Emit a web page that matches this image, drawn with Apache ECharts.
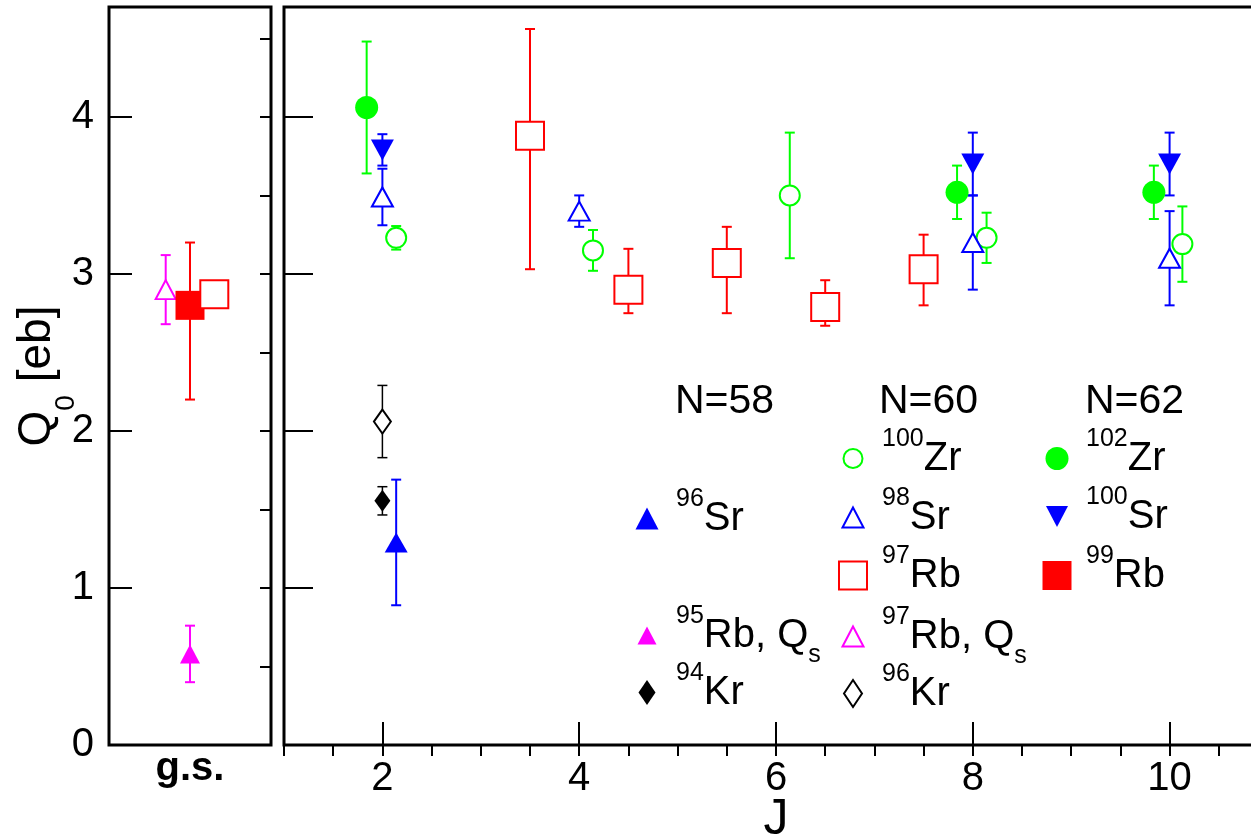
<!DOCTYPE html>
<html>
<head>
<meta charset="utf-8">
<script src="https://cdn.jsdelivr.net/npm/echarts@6/dist/echarts.min.js"></script>
<style>
  html, body { margin: 0; padding: 0; background: #fff; }
  #chart { width: 1251px; height: 839px; }
</style>
</head>
<body>
<div id="chart"></div>
<script>
// each point: [J, Q0, error down, error up]
const zr100 = [[2.14, 3.23, 0.075, 0.075], [4.14, 3.15, 0.13, 0.13], [6.14, 3.50, 0.40, 0.40], [8.14, 3.23, 0.16, 0.16], [10.13, 3.19, 0.24, 0.24]];
const zr102 = [[1.84, 4.06, 0.42, 0.42], [7.84, 3.52, 0.17, 0.17], [9.84, 3.52, 0.17, 0.17]];
const sr100 = [[2.0, 3.79, 0.10, 0.10], [8.0, 3.70, 0.20, 0.20], [10.0, 3.70, 0.20, 0.20]];
const sr98 = [[2.0, 3.49, 0.18, 0.18], [4.0, 3.40, 0.10, 0.10], [8.0, 3.20, 0.30, 0.30], [10.0, 3.10, 0.30, 0.30]];
const rb97 = [[3.5, 3.88, 0.85, 0.68], [4.5, 2.90, 0.15, 0.26], [5.5, 3.07, 0.32, 0.23], [6.5, 2.79, 0.12, 0.17], [7.5, 3.03, 0.23, 0.22]];
const sr96 = [[2.14, 1.29, 0.40, 0.40]];
const kr94 = [[2.0, 1.555, 0.09, 0.09]];
const kr96 = [[2.0, 2.06, 0.23, 0.23]];

// ground state panel, x runs 0..1
const gsRb97Qs = [[0.35, 2.90, 0.22, 0.22]];
const gsRb99 = [[0.5, 2.80, 0.60, 0.40]];
const gsRb97 = [[0.65, 2.87, 0.05, 0.05]];
const gsRb95Qs = [[0.5, 0.58, 0.18, 0.18]];

const jTicks = [2, 4, 6, 8, 10];
const qTicks = [0, 1, 2, 3, 4];
const groupHeaders = ['N=58', 'N=60', 'N=62'];

const FONT = 'Liberation Sans';
const GREEN = '#00ff00', BLUE = '#0000ff', RED = '#ff0000', MAG = '#ff00ff', BLACK = '#000';
const DOWN_TRIANGLE = 'path://M0,0L20,0L10,19Z';

function points(name, data, symbol, size, color, hollow, xi, yi, rotate) {
  return {
    type: 'scatter', name: name, data: data, xAxisIndex: xi, yAxisIndex: yi,
    symbol: symbol, symbolSize: size, symbolRotate: rotate || 0, z: 3,
    itemStyle: hollow ? {color: '#fff', borderColor: color, borderWidth: 2, opacity: 1}
                      : {color: color, borderWidth: 0, opacity: 1},
    emphasis: {disabled: true}, silent: true
  };
}

function errors(name, data, color, xi, yi, width) {
  const lw = width || 2;
  return {
    type: 'custom', name: name + ' err', data: data, xAxisIndex: xi, yAxisIndex: yi,
    encode: {x: 0, y: 1}, z: 2, silent: true,
    renderItem: function (params, api) {
      const x = api.value(0), y = api.value(1);
      const lo = api.coord([x, y - api.value(2)]);
      const hi = api.coord([x, y + api.value(3)]);
      const st = {stroke: color, lineWidth: lw};
      const c = 5;
      return {type: 'group', children: [
        {type: 'line', shape: {x1: lo[0], y1: lo[1], x2: hi[0], y2: hi[1]}, style: st},
        {type: 'line', shape: {x1: lo[0] - c, y1: lo[1], x2: lo[0] + c, y2: lo[1]}, style: st},
        {type: 'line', shape: {x1: hi[0] - c, y1: hi[1], x2: hi[0] + c, y2: hi[1]}, style: st}
      ]};
    }
  };
}

const series = [
  errors('100Zr', zr100, GREEN, 1, 2), points('100Zr', zr100, 'circle', 20, GREEN, true, 1, 2),
  errors('102Zr', zr102, GREEN, 1, 2), points('102Zr', zr102, 'circle', 23, GREEN, false, 1, 2),
  errors('100Sr', sr100, BLUE, 1, 2), points('100Sr', sr100, 'triangle', [23, 21], BLUE, false, 1, 2, 180),
  errors('98Sr', sr98, BLUE, 1, 2), points('98Sr', sr98, 'triangle', [21, 19], BLUE, true, 1, 2),
  errors('97Rb', rb97, RED, 1, 2), points('97Rb', rb97, 'rect', 28, RED, true, 1, 2),
  errors('96Sr', sr96, BLUE, 1, 2), points('96Sr', sr96, 'triangle', [23, 20], BLUE, false, 1, 2),
  errors('94Kr', kr94, BLACK, 1, 2, 1.5), points('94Kr', kr94, 'diamond', [16, 22], BLACK, false, 1, 2),
  errors('96Kr', kr96, BLACK, 1, 2, 1.5), points('96Kr', kr96, 'diamond', [17, 24], BLACK, true, 1, 2),
  errors('97Rb, Qs', gsRb97Qs, MAG, 0, 0), points('97Rb, Qs', gsRb97Qs, 'triangle', [20, 19], MAG, true, 0, 0),
  errors('99Rb', gsRb99, RED, 0, 0), points('99Rb', gsRb99, 'rect', 29, RED, false, 0, 0),
  errors('97Rb gs', gsRb97, RED, 0, 0), points('97Rb', gsRb97, 'rect', 28, RED, true, 0, 0),
  errors('95Rb, Qs', gsRb95Qs, MAG, 0, 0), points('95Rb, Qs', gsRb95Qs, 'triangle', [20, 19], MAG, false, 0, 0)
];

// legend slots: icon centre and icon size
const legendSlots = [
  {name: '96Sr', cx: 647, cy: 518, w: 23, h: 22},
  {name: '95Rb, Qs', cx: 647, cy: 634, w: 19, h: 18},
  {name: '94Kr', cx: 647, cy: 692, w: 17, h: 25},
  {name: '100Zr', cx: 852, cy: 458, w: 19, h: 19},
  {name: '98Sr', cx: 852, cy: 517, w: 21, h: 20},
  {name: '97Rb', cx: 852, cy: 575, w: 28, h: 28},
  {name: '97Rb, Qs', cx: 852, cy: 635, w: 21, h: 20},
  {name: '96Kr', cx: 852, cy: 693, w: 18, h: 27},
  {name: '102Zr', cx: 1057, cy: 458, w: 23, h: 23},
  {name: '100Sr', cx: 1057, cy: 516, w: 22, h: 21, icon: DOWN_TRIANGLE},
  {name: '99Rb', cx: 1057, cy: 575, w: 29, h: 29}
];

function nucleusLabel(name) {
  const m = name.match(/^(\d+)([A-Za-z]+)(, Qs)?$/);
  if (!m) return name;
  if (m[3]) return '{sup|' + m[1] + '}{base|' + m[2] + ', Q}{sub|s}';
  return '{sup|' + m[1] + '}{base|' + m[2] + '}';
}

const legends = legendSlots.map(s => ({
  data: [s.icon ? {name: s.name, icon: s.icon} : s.name],
  left: s.cx - s.w / 2, top: s.cy - 31, padding: 0,
  itemWidth: s.w, itemHeight: s.h, selectedMode: false,
  formatter: nucleusLabel,
  textStyle: {
    color: '#000',
    rich: {
      sup: {fontSize: 25, fontFamily: FONT, color: '#000', lineHeight: 20, padding: [0, 0, 38, 24 - s.w / 2]},
      base: {fontSize: 40, fontFamily: FONT, color: '#000'},
      sub: {fontSize: 25, fontFamily: FONT, color: '#000', lineHeight: 20, padding: [40, 0, 0, 0]}
    }
  }
}));

const headerX = [675, 879, 1085];

const tickStyle = {color: '#000', width: 2};

const option = {
  animation: false,
  backgroundColor: '#fff',
  grid: [
    {left: 109, top: 7, width: 162, height: 738, show: true, borderColor: '#000', borderWidth: 3,
     backgroundColor: 'transparent', outerBoundsMode: 'none', containLabel: false},
    {left: 284, top: 7, width: 984, height: 738, show: true, borderColor: '#000', borderWidth: 3,
     backgroundColor: 'transparent', outerBoundsMode: 'none', containLabel: false}
  ],
  xAxis: [
    {type: 'value', gridIndex: 0, min: 0, max: 1, axisLine: {show: false}, axisTick: {show: false},
     axisLabel: {show: false}, splitLine: {show: false},
     name: 'g.s.', nameLocation: 'middle', nameGap: 4, nameMoveOverlap: false,
     nameTextStyle: {fontFamily: FONT, fontSize: 40, fontWeight: 'bold', color: '#000'}},
    {type: 'value', gridIndex: 1, min: 1, max: 11, axisLine: {show: false}, splitLine: {show: false},
     axisTick: {inside: true, length: 23, lineStyle: tickStyle, customValues: jTicks},
     axisLabel: {customValues: jTicks, fontFamily: FONT, fontSize: 40, color: '#000', margin: 14},
     name: 'J', nameLocation: 'middle', nameGap: 50, nameMoveOverlap: false,
     nameTextStyle: {fontFamily: FONT, fontSize: 50, color: '#000'}},
    {type: 'value', gridIndex: 1, min: 1, max: 11, interval: 0.5, axisLine: {show: false}, splitLine: {show: false},
     axisTick: {inside: true, length: 11, lineStyle: tickStyle}, axisLabel: {show: false}}
  ],
  yAxis: [
    {type: 'value', gridIndex: 0, min: 0, max: 4.7, axisLine: {show: false}, splitLine: {show: false},
     axisTick: {inside: true, length: 23, lineStyle: tickStyle, customValues: qTicks},
     axisLabel: {customValues: qTicks, fontFamily: FONT, fontSize: 40, color: '#000', margin: 15},
     name: '{q|Q}{s|0}{q| [eb]}', nameLocation: 'middle', nameGap: 47, nameMoveOverlap: false,
     nameTextStyle: {color: '#000', rich: {
       q: {fontFamily: FONT, fontSize: 46, color: '#000', lineHeight: 50},
       s: {fontFamily: FONT, fontSize: 28, color: '#000', lineHeight: 20, padding: [59, 0, 0, 0]}
     }}},
    {type: 'value', gridIndex: 0, min: 0, max: 4.7, interval: 0.5, axisLine: {show: false}, splitLine: {show: false},
     axisTick: {inside: true, length: 11, lineStyle: tickStyle}, axisLabel: {show: false}},
    {type: 'value', gridIndex: 1, min: 0, max: 4.7, axisLine: {show: false}, splitLine: {show: false},
     axisTick: {inside: true, length: 29, lineStyle: tickStyle, customValues: qTicks},
     axisLabel: {show: false}},
    {type: 'value', gridIndex: 1, min: 0, max: 4.7, interval: 0.5, axisLine: {show: false}, splitLine: {show: false},
     axisTick: {inside: true, length: 14, lineStyle: tickStyle}, axisLabel: {show: false}}
  ],
  legend: legends,
  graphic: groupHeaders.map((t, i) => ({
    type: 'text', x: headerX[i], y: 402, silent: true,
    style: {text: t, fontFamily: FONT, fontSize: 41, fill: '#000', verticalAlign: 'middle'}
  })),
  series: series
};

const chart = echarts.init(document.getElementById('chart'), null, {renderer: 'canvas'});
chart.setOption(option);
</script>
</body>
</html>
